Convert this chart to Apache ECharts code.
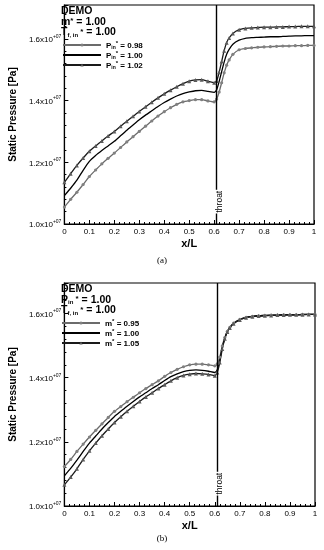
<!DOCTYPE html>
<html><head><meta charset="utf-8">
<script src="https://cdn.jsdelivr.net/npm/echarts@6/dist/echarts.min.js"></script>
<style>html,body{margin:0;padding:0;background:#fff}#c{width:324px;height:550px}</style>
</head><body><div id="c"></div>
<script>
// x/L positions shared by all series
const xL = [0,0.025,0.05,0.075,0.1,0.125,0.15,0.175,0.2,0.225,0.25,0.275,0.3,0.325,0.35,0.375,0.4,0.425,0.45,0.475,0.5,0.525,0.55,0.575,0.6,0.61,0.62,0.63,0.64,0.65,0.66,0.675,0.7,0.725,0.75,0.775,0.8,0.825,0.85,0.875,0.9,0.925,0.95,0.975,1.0];
// (a) static pressure [x1e7 Pa]
const pA_098 = [1.055,1.080,1.103,1.128,1.154,1.175,1.195,1.213,1.230,1.248,1.266,1.283,1.300,1.317,1.334,1.350,1.364,1.377,1.388,1.396,1.400,1.403,1.403,1.399,1.396,1.405,1.428,1.458,1.490,1.515,1.532,1.550,1.565,1.569,1.571,1.573,1.574,1.575,1.576,1.577,1.577,1.578,1.578,1.579,1.579];
const pA_100 = [1.092,1.116,1.142,1.174,1.203,1.222,1.238,1.253,1.268,1.286,1.304,1.321,1.338,1.353,1.367,1.381,1.394,1.405,1.415,1.423,1.428,1.432,1.433,1.430,1.427,1.435,1.462,1.494,1.525,1.550,1.566,1.583,1.596,1.602,1.604,1.605,1.606,1.607,1.607,1.608,1.609,1.610,1.610,1.611,1.611];
const pA_102 = [1.135,1.163,1.190,1.214,1.236,1.253,1.269,1.285,1.300,1.317,1.333,1.349,1.365,1.380,1.395,1.409,1.422,1.434,1.445,1.455,1.463,1.467,1.468,1.463,1.458,1.464,1.492,1.527,1.562,1.588,1.603,1.618,1.630,1.634,1.636,1.637,1.638,1.638,1.639,1.639,1.640,1.640,1.641,1.641,1.641];
// (b) static pressure [x1e7 Pa]
const pB_095 = [1.123,1.145,1.170,1.193,1.215,1.236,1.256,1.276,1.295,1.310,1.325,1.339,1.353,1.366,1.378,1.390,1.404,1.416,1.426,1.434,1.440,1.442,1.442,1.440,1.437,1.443,1.464,1.499,1.525,1.544,1.557,1.570,1.582,1.588,1.591,1.593,1.594,1.595,1.595,1.596,1.596,1.596,1.597,1.597,1.597];
const pB_100 = [1.094,1.117,1.143,1.170,1.196,1.218,1.240,1.260,1.279,1.295,1.311,1.326,1.340,1.353,1.366,1.378,1.391,1.403,1.412,1.419,1.423,1.424,1.423,1.420,1.416,1.425,1.454,1.494,1.523,1.543,1.556,1.569,1.581,1.588,1.591,1.593,1.594,1.595,1.595,1.596,1.596,1.596,1.597,1.597,1.597];
const pB_105 = [1.066,1.090,1.116,1.145,1.172,1.196,1.219,1.240,1.260,1.278,1.295,1.311,1.326,1.340,1.353,1.366,1.378,1.390,1.400,1.407,1.411,1.413,1.412,1.410,1.406,1.416,1.447,1.489,1.521,1.542,1.555,1.568,1.580,1.587,1.590,1.592,1.593,1.594,1.595,1.595,1.596,1.596,1.596,1.597,1.597];
const xTicks = {min:0, max:1, interval:0.1};
const yTicks = {min:1.0, interval:0.2};
const throatX = 0.615;
const labelsA = ['0.98','1.00','1.02'];
const labelsB = ['0.95','1.00','1.05'];

const FONT = 'Liberation Sans, Arial, sans-serif';
const pair = (ys) => xL.map((x,i)=>[x, ys[i]]);

function xAxis(gi){
  return {type:'value', gridIndex:gi, min:xTicks.min, max:xTicks.max, interval:xTicks.interval,
    name:'x/L', nameLocation:'middle', nameGap:14,
    nameTextStyle:{fontFamily:FONT, fontWeight:'bold', fontSize:11, color:'#000'},
    axisLine:{show:true, lineStyle:{color:'#000', width:1.2}},
    axisTick:{show:true, inside:true, length:4, lineStyle:{color:'#000', width:1}},
    minorTick:{show:true, splitNumber:5, length:2, lineStyle:{color:'#000', width:1}},
    axisLabel:{margin:4, fontFamily:FONT, fontSize:8, color:'#000',
      formatter:v=> (Math.abs(v)<1e-9?'0':(Math.abs(v-1)<1e-9?'1':v.toFixed(1)))},
    splitLine:{show:false}};
}
function yAxis(gi, max){
  return {type:'value', gridIndex:gi, min:yTicks.min, max:max, interval:yTicks.interval,
    name:'Static Pressure [Pa]', nameLocation:'middle', nameGap:46,
    nameTextStyle:{fontFamily:FONT, fontWeight:'bold', fontSize:10, color:'#000'},
    axisLine:{show:true, lineStyle:{color:'#000', width:1.2}},
    axisTick:{show:true, inside:true, length:4, lineStyle:{color:'#000', width:1}},
    minorTick:{show:true, splitNumber:5, length:2, lineStyle:{color:'#000', width:1}},
    axisLabel:{margin:3, showMaxLabel:false, fontFamily:FONT, fontSize:8, color:'#000',
      formatter:v=>'{a|'+v.toFixed(1)+'x10}{b|+07}',
      rich:{a:{fontFamily:FONT, fontSize:8, color:'#000', verticalAlign:'bottom', lineHeight:10},
            b:{fontFamily:FONT, fontSize:5, color:'#000', verticalAlign:'top', lineHeight:10}}},
    splitLine:{show:false}};
}
function mkSeries(name, data, gi, kind, withThroat){
  const s = {name:name, type:'line', xAxisIndex:gi, yAxisIndex:gi, data:data, smooth:0.2, z:3,
    lineStyle:{width:1.3}, animation:false};
  if(kind==='circle'){ s.symbol='circle'; s.symbolSize=3.2; s.lineStyle.color='#6b6b6b'; s.itemStyle={color:'#808080', borderWidth:0}; }
  else if(kind==='none'){ s.symbol='none'; s.lineStyle.color='#000'; s.itemStyle={color:'#000'}; }
  else { s.symbol='triangle'; s.symbolSize=4; s.lineStyle.color='#1a1a1a'; s.itemStyle={color:'#5a5a5a', borderWidth:0}; }
  if(withThroat){
    s.markLine = {silent:true, symbol:['none','none'], animation:false,
      lineStyle:{color:'#000', width:1.4, type:'solid'},
      label:{show:true, formatter:'throat', position:'insideStartTop', distance:[7,4.5],
        fontFamily:FONT, fontSize:8.5, color:'#000', backgroundColor:'#fff', padding:[0,1], offset:[6,0]},
      data:[{xAxis:throatX}]};
  }
  return s;
}
const legRich = {
  b:{fontFamily:FONT, fontWeight:'bold', fontSize:8, color:'#000', verticalAlign:'bottom', lineHeight:10},
  s:{fontFamily:FONT, fontWeight:'bold', fontSize:5, color:'#000', verticalAlign:'bottom', lineHeight:10},
  t:{fontFamily:FONT, fontWeight:'bold', fontSize:6, color:'#000', verticalAlign:'top', lineHeight:10}
};
const hdrRich = {
  b:{fontFamily:FONT, fontWeight:'bold', fontSize:10.5, fill:'#000', verticalAlign:'bottom', lineHeight:10.5},
  s:{fontFamily:FONT, fontWeight:'bold', fontSize:6, fill:'#000', verticalAlign:'bottom', lineHeight:10.5},
  t:{fontFamily:FONT, fontWeight:'bold', fontSize:8, fill:'#000', verticalAlign:'top', lineHeight:10.5}
};
function hdr(x,y,txt){ return {type:'text', left:x, top:y, z:10, style:{text:txt, rich:hdrRich, font:'bold 10.5px '+FONT, fill:'#000', lineHeight:10.5}}; }
function legendItems(names){ return names.map((n,i)=> i===1 ? {name:n, itemStyle:{opacity:0}} : {name:n}); }

const option = {
  animation:false,
  backgroundColor:'#fff',
  grid:[
    {left:55, right:10, top:5, height:219, show:true, borderColor:'#000', borderWidth:1.2, backgroundColor:'transparent'},
    {left:53, right:9, top:283, height:223, show:true, borderColor:'#000', borderWidth:1.2, backgroundColor:'transparent'}
  ],
  xAxis:[xAxis(0), xAxis(1)],
  yAxis:[yAxis(0,1.71), yAxis(1,1.695)],
  legend:[
    {orient:'vertical', left:62, top:40, padding:0, itemGap:0, itemWidth:38, itemHeight:4,
      data:legendItems(['A098','A100','A102']), selectedMode:false,
      formatter:n=>{const v={A098:labelsA[0],A100:labelsA[1],A102:labelsA[2]}[n]; return '{b|P}{s|in}{t|*}{b| = '+v+'}';},
      textStyle:{rich:legRich}},
    {orient:'vertical', left:61, top:318, padding:0, itemGap:0, itemWidth:38, itemHeight:4,
      data:legendItems(['B095','B100','B105']), selectedMode:false,
      formatter:n=>{const v={B095:labelsB[0],B100:labelsB[1],B105:labelsB[2]}[n]; return '{b|m}{t|*}{b| = '+v+'}';},
      textStyle:{rich:legRich}}
  ],
  graphic:[
    hdr(61,6,'{b|DEMO}\n{b|m}{t|*}{b| = 1.00}\n{b|T}{s|f, in}{t| *}{b| = 1.00}'),
    hdr(61,284,'{b|DEMO}\n{b|P}{s|in}{t| *}{b| = 1.00}\n{b|T}{s|f, in}{t| *}{b| = 1.00}'),
    {type:'text', left:'center', top:256, style:{text:'(a)', font:'9px Liberation Serif, serif', fill:'#000'}},
    {type:'text', left:'center', top:534, style:{text:'(b)', font:'9px Liberation Serif, serif', fill:'#000'}}
  ],
  series:[
    mkSeries('A098', pair(pA_098), 0, 'circle', true),
    mkSeries('A100', pair(pA_100), 0, 'none', false),
    mkSeries('A102', pair(pA_102), 0, 'tri', false),
    mkSeries('B095', pair(pB_095), 1, 'circle', true),
    mkSeries('B100', pair(pB_100), 1, 'none', false),
    mkSeries('B105', pair(pB_105), 1, 'tri', false)
  ]
};
const chart = echarts.init(document.getElementById('c'), null, {renderer:'canvas'});
chart.setOption(option);
</script>
</body></html>
